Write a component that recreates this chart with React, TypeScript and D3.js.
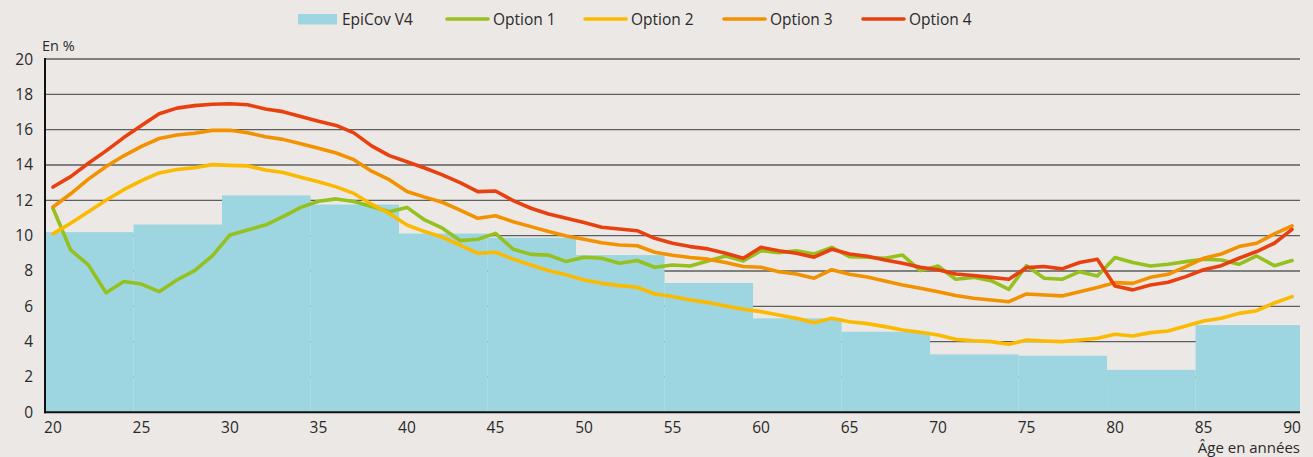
import React from "react";
import * as d3 from "d3";

const ages: number[] = d3.range(20, 91);

const barStarts = [20, 25, 30, 35, 40, 45, 50, 55, 60, 65, 70, 75, 80, 85];
const epicov = [10.2, 10.63, 12.28, 11.76, 10.12, 9.88, 8.9, 7.32, 5.32, 4.56, 3.28, 3.2, 2.4, 4.94];

const option1 = [
  11.55, 9.19, 8.34, 6.77, 7.4, 7.26, 6.83, 7.49, 8.02, 8.85,
  10.04, 10.32, 10.6, 11.08, 11.6, 11.95, 12.08, 11.93, 11.65, 11.36,
  11.6, 10.89, 10.42, 9.72, 9.8, 10.13, 9.23, 8.94, 8.9, 8.53,
  8.78, 8.72, 8.44, 8.59, 8.21, 8.34, 8.28, 8.57, 8.85, 8.57,
  9.15, 9.04, 9.15, 8.96, 9.34, 8.81, 8.78, 8.72, 8.9, 8.02,
  8.28, 7.53, 7.64, 7.45, 6.96, 8.3, 7.59, 7.53, 7.96, 7.72,
  8.76, 8.48, 8.28, 8.38, 8.53, 8.66, 8.62, 8.38, 8.85, 8.3,
  8.59,
];
const option2 = [
  10.1, 10.7, 11.35, 12.0, 12.6, 13.12, 13.55, 13.74, 13.84, 14.02,
  13.98, 13.95, 13.72, 13.57, 13.3, 13.05, 12.76, 12.39, 11.78, 11.25,
  10.6, 10.23, 9.91, 9.47, 9.0, 9.06, 8.67, 8.34, 8.02, 7.78,
  7.49, 7.3, 7.17, 7.08, 6.7, 6.55, 6.36, 6.21, 6.02, 5.83,
  5.7, 5.51, 5.32, 5.07, 5.32, 5.13, 5.02, 4.85, 4.66, 4.53,
  4.38, 4.13, 4.05, 4.0, 3.85, 4.09, 4.04, 4.0, 4.09, 4.19,
  4.42, 4.32, 4.51, 4.6, 4.89, 5.17, 5.32, 5.6, 5.75, 6.19,
  6.55,
];
const option3 = [
  11.62, 12.37, 13.2, 13.91, 14.52, 15.05, 15.5, 15.7, 15.8, 15.96,
  15.97, 15.82, 15.6, 15.45, 15.2, 14.95, 14.68, 14.3, 13.65, 13.17,
  12.5, 12.18, 11.89, 11.45, 10.98, 11.13, 10.79, 10.51, 10.23, 9.98,
  9.8, 9.6, 9.47, 9.43, 9.06, 8.89, 8.76, 8.67, 8.48, 8.25,
  8.21, 7.96, 7.83, 7.59, 8.07, 7.81, 7.66, 7.43, 7.21, 7.02,
  6.83, 6.61, 6.46, 6.36, 6.26, 6.7, 6.64, 6.59, 6.83, 7.06,
  7.34, 7.3, 7.64, 7.81, 8.25, 8.72, 8.96, 9.38, 9.57, 10.1,
  10.55,
];
const option4 = [
  12.75, 13.34, 14.1, 14.8, 15.55, 16.23, 16.9, 17.22, 17.36, 17.44,
  17.47, 17.41, 17.17, 17.02, 16.75, 16.48, 16.24, 15.82, 15.08, 14.53,
  14.18, 13.83, 13.44, 13.0, 12.49, 12.53, 11.98, 11.55, 11.23, 10.98,
  10.74, 10.48, 10.38, 10.28, 9.85, 9.57, 9.38, 9.25, 9.0, 8.72,
  9.34, 9.15, 9.0, 8.78, 9.23, 8.96, 8.83, 8.62, 8.44, 8.21,
  8.07, 7.83, 7.74, 7.64, 7.53, 8.19, 8.25, 8.12, 8.48, 8.66,
  7.15, 6.93, 7.21, 7.36, 7.68, 8.07, 8.3, 8.72, 9.1, 9.57,
  10.36,
];

const yTicks = [0, 2, 4, 6, 8, 10, 12, 14, 16, 18, 20];
const xTicks = [20, 25, 30, 35, 40, 45, 50, 55, 60, 65, 70, 75, 80, 85, 90];

const seriesNames = ["Option 1", "Option 2", "Option 3", "Option 4"];
const seriesValues = [option1, option2, option3, option4];
const seriesColors = ["#95c11f", "#fbba00", "#f39200", "#e8410f"];
const barName = "EpiCov V4";
const barColor = "#9dd6e1";

const W = 1313;
const H = 457;
const FONT = "'Open Sans', 'Noto Sans', sans-serif";
const TEXT = "#2a2a2a";

if (typeof document !== "undefined") {
  document.body.style.margin = "0";
}

export default function App() {
  const x = d3.scaleLinear().domain([19.55, 90.45]).range([45, 1300]);
  const y = d3.scaleLinear().domain([0, 20]).range([412.3, 59]);
  const line = d3
    .line<number>()
    .x((_, i) => x(ages[i]))
    .y((d) => y(d))
    .curve(d3.curveLinear);

  const legendX = [298, 447, 585, 724, 863];
  const legendY = 19;

  return (
    <svg width={W} height={H} style={{ display: "block", background: "#ece8e5" }} fontFamily={FONT}>
      <rect x={0} y={0} width={W} height={H} fill="#ece8e5" />
      {/* gridlines */}
      {yTicks.filter((t) => t > 0).map((t) => (
        <line key={"g" + t} x1={45} x2={1300} y1={y(t)} y2={y(t)} stroke="#5e5e5e" strokeWidth={1.3} />
      ))}
      {/* bars */}
      {barStarts.map((s, i) => {
        const x0 = x(s - 0.45);
        const x1 = i < barStarts.length - 1 ? x(barStarts[i + 1] - 0.45) : x(90.45);
        return (
          <rect key={"b" + s} x={x0} y={y(epicov[i])} width={x1 - x0} height={y(0) - y(epicov[i])} fill={barColor} />
        );
      })}
      {/* lines */}
      {seriesValues.map((vals, i) => (
        <path key={seriesNames[i]} d={line(vals) || ""} fill="none" stroke={seriesColors[i]} strokeWidth={3.6} strokeLinejoin="round" strokeLinecap="round" />
      ))}
      {/* axes */}
      <line x1={45} x2={45} y1={58} y2={413.3} stroke="#111" strokeWidth={2} />
      <line x1={44} x2={1300} y1={y(0)} y2={y(0)} stroke="#111" strokeWidth={2} />
      {yTicks.map((t) => (
        <text key={"yt" + t} x={33} y={y(t) + 5.5} textAnchor="end" fontSize={15.5} fill={TEXT}>
          {t}
        </text>
      ))}
      <text x={42} y={51} fontSize={14.5} fill={TEXT}>En %</text>
      {xTicks.map((t) => (
        <text key={"xt" + t} x={x(t)} y={433} textAnchor="middle" fontSize={15.5} fill={TEXT}>
          {t}
        </text>
      ))}
      <text x={1300} y={453} textAnchor="end" fontSize={15} fill={TEXT}>Âge en années</text>
      {/* legend */}
      <rect x={legendX[0]} y={legendY - 5} width={39} height={10.5} fill={barColor} />
      <text x={legendX[0] + 44} y={legendY + 6} fontSize={15.5} fill={TEXT}>{barName}</text>
      {seriesNames.map((n, i) => (
        <g key={"lg" + n}>
          <line x1={legendX[i + 1]} x2={legendX[i + 1] + 41} y1={legendY} y2={legendY} stroke={seriesColors[i]} strokeWidth={3.6} strokeLinecap="round" />
          <text x={legendX[i + 1] + 46} y={legendY + 6} fontSize={15.5} fill={TEXT}>{n}</text>
        </g>
      ))}
    </svg>
  );
}
